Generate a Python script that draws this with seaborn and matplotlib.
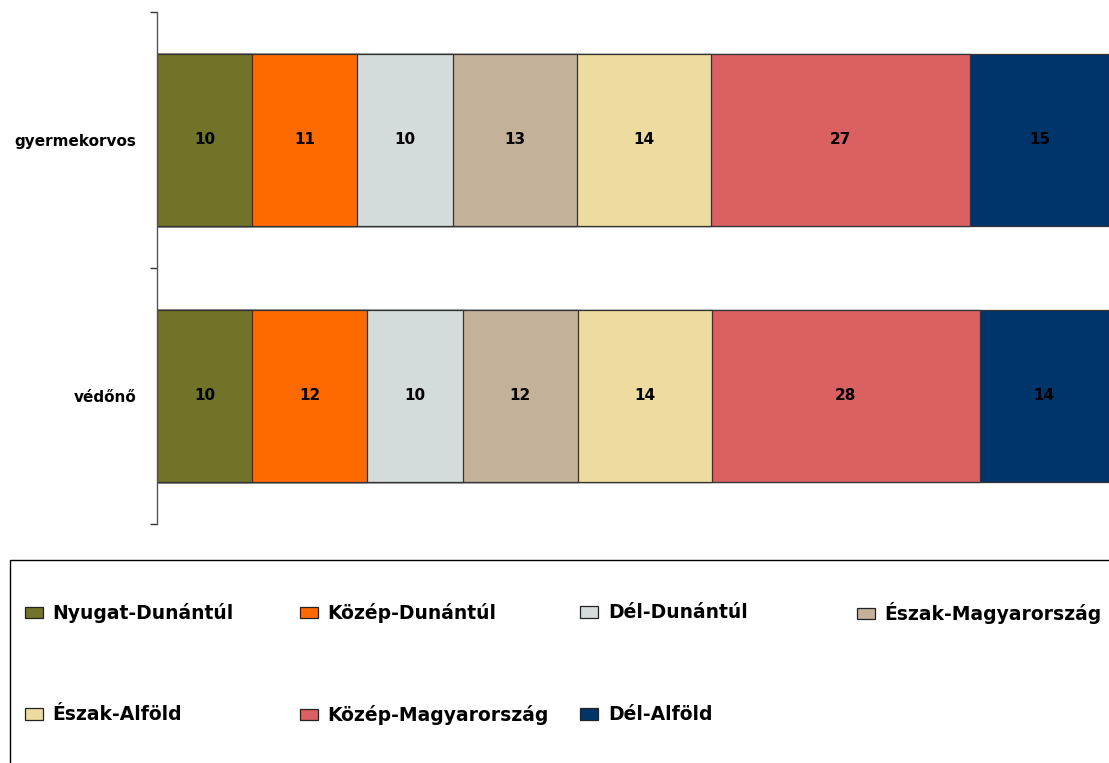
import numpy as np
import pandas as pd
import matplotlib
matplotlib.use("Agg")
import matplotlib.pyplot as plt
from matplotlib.patches import Patch, Rectangle
import seaborn as sns

# --- Data (share of each region, %) ---
groups = ["gyermekorvos", "védőnő"]
regions = ["Nyugat-Dunántúl", "Közép-Dunántúl", "Dél-Dunántúl", "Észak-Magyarország",
           "Észak-Alföld", "Közép-Magyarország", "Dél-Alföld"]
gyermekorvos = [10.0, 11.0, 10.1, 13.0, 14.1, 27.2, 14.6]
vedono = [10.0, 12.1, 10.0, 12.1, 14.1, 28.1, 13.6]
colors = ["#717428", "#FF6A00", "#D3DCDB", "#C4B19A", "#EEDB9F", "#DA6062", "#00356B"]

df = pd.DataFrame({"gyermekorvos": gyermekorvos, "védőnő": vedono}, index=regions)
cum = df.cumsum()

sns.set_style("white")
plt.rcParams["font.family"] = ["DejaVu Sans"]
plt.rcParams["font.weight"] = "bold"
plt.rcParams["text.color"] = "black"
plt.rcParams["ytick.labelcolor"] = "black"

fig = plt.figure(figsize=(11.09, 7.63), dpi=100)
ax = fig.add_axes([157 / 1109, 1 - 524 / 763, 1 - 157 / 1109, 512 / 763])

# stacked bars: draw cumulative totals from the largest down
for reg, col in zip(regions[::-1], colors[::-1]):
    sns.barplot(x=cum.loc[reg].values, y=groups, orient="h", color=col, width=0.67,
                edgecolor="#333333", linewidth=0.9, ax=ax, saturation=1)

# value labels
for i, g in enumerate(groups):
    left = 0
    for reg in regions:
        v = df.loc[reg, g]
        ax.text(left + v / 2, i, f"{v:.0f}", ha="center", va="center",
                fontsize=11, fontweight="bold", color="black")
        left += v

ax.set_xlim(0, 100)
ax.set_ylim(1.5, -0.5)
ax.set_xlabel("")
ax.set_ylabel("")
ax.set_xticks([])
ax.set_yticks([0, 1])
ax.set_yticklabels(groups, fontsize=11, fontweight="bold", color="black")
ax.set_yticks([-0.5, 0.5, 1.5], minor=True)
ax.tick_params(axis="y", which="major", length=0, pad=15)
ax.tick_params(axis="y", which="minor", length=5, width=1, color="#333333", left=True)
for s in ["top", "right", "bottom"]:
    ax.spines[s].set_visible(False)
ax.spines["left"].set_color("#555555")
ax.spines["left"].set_linewidth(1)

# legend frame
fig.patches.append(Rectangle((10 / 1109, -0.1), 1.2, 1 - 560 / 763 + 0.1,
                             transform=fig.transFigure, fill=False,
                             edgecolor="black", linewidth=1))

# legend: 4 columns x 2 rows, one entry each so rows line up
col_x = [25, 300, 580, 857]
row_y = [613, 715]
for k, (reg, col) in enumerate(zip(regions, colors)):
    r, c = divmod(k, 4)
    h = Patch(facecolor=col, edgecolor="#222222", linewidth=0.9)
    leg = fig.legend([h], [reg], loc="center left",
                     bbox_to_anchor=(col_x[c] / 1109, 1 - row_y[r] / 763),
                     frameon=False, borderpad=0, borderaxespad=0,
                     handlelength=0.98, handleheight=0.55, handletextpad=0.5,
                     prop={"size": 13.5, "weight": "bold"})

fig.savefig("out.png", dpi=100)
